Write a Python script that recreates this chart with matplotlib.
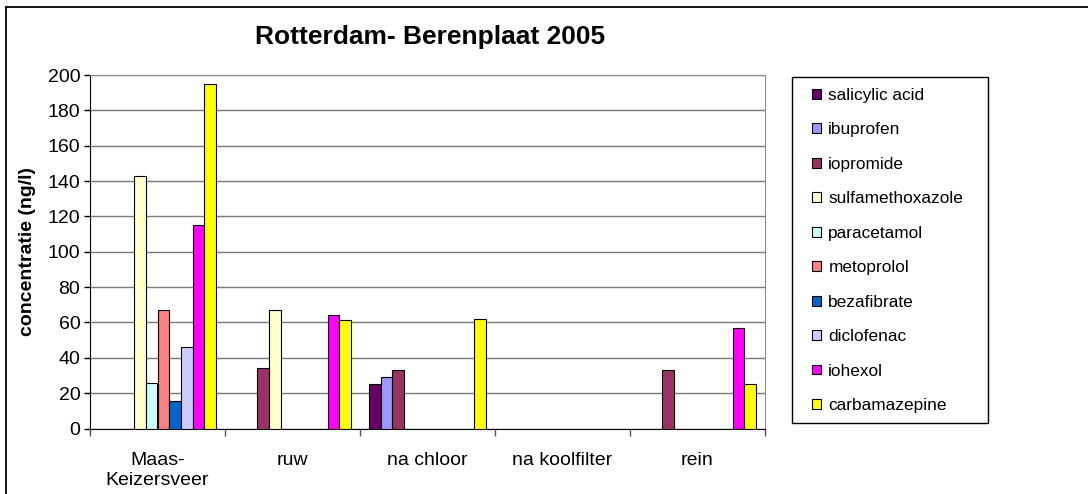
import matplotlib.pyplot as plt
import numpy as np
from matplotlib.patches import Patch, Rectangle
from matplotlib.lines import Line2D

plt.rcParams['font.family'] = ['Liberation Sans', 'DejaVu Sans']

# meetpunten en stoffen
locaties = ['Maas-\nKeizersveer', 'ruw', 'na chloor', 'na koolfilter', 'rein']
stoffen = ['salicylic acid', 'ibuprofen', 'iopromide', 'sulfamethoxazole', 'paracetamol',
           'metoprolol', 'bezafibrate', 'diclofenac', 'iohexol', 'carbamazepine']
kleuren = ['#660066', '#9999FF', '#993366', '#FFFFCC', '#CCFFFF',
           '#FF8080', '#0066CC', '#CCCCFF', '#FF00FF', '#FFFF00']

nan = np.nan
# concentraties (ng/l) per stof, per locatie
salicylic_acid = [nan, nan, 25, nan, nan]
ibuprofen = [nan, nan, 29, nan, nan]
iopromide = [nan, 34, 33, nan, 33]
sulfamethoxazole = [143, 67, nan, nan, nan]
paracetamol = [26, nan, nan, nan, nan]
metoprolol = [67, nan, nan, nan, nan]
bezafibrate = [15.5, nan, nan, nan, nan]
diclofenac = [46, nan, nan, nan, nan]
iohexol = [115, 64, nan, nan, 57]
carbamazepine = [195, 61.5, 62, nan, 25]

waarden = [salicylic_acid, ibuprofen, iopromide, sulfamethoxazole, paracetamol,
           metoprolol, bezafibrate, diclofenac, iohexol, carbamazepine]

fig = plt.figure(figsize=(10.88, 4.94), dpi=100)
ax = fig.add_axes([90/1088, 1 - 428.5/494, 675/1088, 353.5/494])

n = len(stoffen)
bw = 1 / (n + 1.5)
index = np.arange(len(locaties))

for i in range(n):
    pos = index - 0.5 + 0.75 * bw + (i + 0.5) * bw
    v = np.array(waarden[i], dtype=float)
    ok = ~np.isnan(v)
    ax.bar(pos[ok], v[ok], bw, color=kleuren[i], edgecolor='black', linewidth=0.8, zorder=3)

ax.set_xlim(-0.5, 4.5)
ax.set_ylim(0, 200)
ax.set_yticks(range(0, 201, 20))
ax.yaxis.grid(True, color='#7a7a7a', linewidth=1.0, zorder=0)
ax.tick_params(axis='y', direction='out', length=4, width=1, labelsize=14, pad=3)

ax.set_xticks(index)
ax.set_xticklabels(locaties, fontsize=14, linespacing=1.25)
ax.set_xticks(np.arange(-0.5, 5, 1), minor=True)
ax.tick_params(axis='x', which='major', length=0, pad=17)
ax.tick_params(axis='x', which='minor', direction='out', length=5, width=1, color='#555555')

for s in ['top', 'right']:
    ax.spines[s].set_color('#8a8a8a')
ax.spines['left'].set_color('black')
ax.spines['bottom'].set_color('black')

ax.set_ylabel('concentratie (ng/l)', fontsize=14, fontweight='bold', labelpad=8)

fig.text(430/1088, 1 - 37/494, 'Rotterdam- Berenplaat 2005', fontsize=19,
         fontweight='bold', ha='center', va='center')

# legenda
fig.patches.append(Rectangle((792/1088, 1 - 423/494), 196/1088, 346/494,
                             transform=fig.transFigure, facecolor='white',
                             edgecolor='black', linewidth=1.0))
handles = [Patch(facecolor=kleuren[i], edgecolor='black', linewidth=0.8) for i in range(n)]
fig.legend(handles, stoffen, loc='upper left', bbox_to_anchor=(812/1088, 1 - 88/494),
           frameon=False, fontsize=12.4, handlelength=0.5, handleheight=0.5,
           handletextpad=0.45, labelspacing=1.13, borderpad=0, borderaxespad=0)

# rand om de grafiek
fig.add_artist(Line2D([6/1088, 1], [1 - 7/494, 1 - 7/494], color='black', linewidth=1.3,
                      transform=fig.transFigure))
fig.add_artist(Line2D([6/1088, 6/1088], [0, 1 - 7/494], color='black', linewidth=1.3,
                      transform=fig.transFigure))

fig.savefig('out.png', dpi=100)
